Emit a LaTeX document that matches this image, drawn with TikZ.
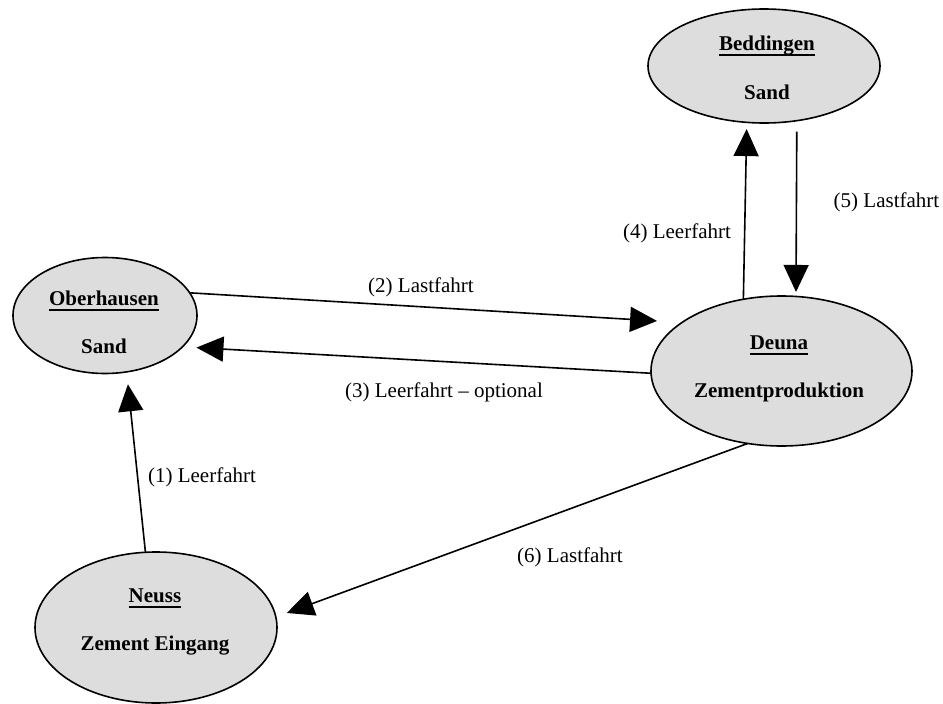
\documentclass[tikz,border=0pt]{standalone}
\usepackage{fontspec}
\setmainfont{Liberation Serif}
\usetikzlibrary{shapes.geometric,arrows.meta}
% underlined place name with a fixed rule depth
\newcommand\placename[1]{\setbox0\hbox{#1}\rlap{\rule[-6pt]{\wd0}{1.7pt}}\box0}
\definecolor{placefill}{RGB}{221,221,221}
\begin{document}
\begin{tikzpicture}[x=1pt,y=1pt,
  place/.style={ellipse, draw, line width=1.6pt, fill=placefill, inner sep=0pt, outer sep=0pt},
  placetext/.style={anchor=base, font=\fontsize{21}{25}\selectfont\bfseries, inner sep=0pt},
  route/.style={line width=1.6pt, -{Triangle[length=27pt,width=25pt]}},
  routelabel/.style={anchor=base, font=\fontsize{21}{25}\selectfont, inner sep=0pt}]
\useasboundingbox (0,0) rectangle (943,-704);

% places
\node[place, minimum width=232pt, minimum height=114pt] (bed) at (764,-66) {};
\node[place, minimum width=184pt, minimum height=116pt] (obh) at (105,-315.5) {};
\node[place, minimum width=261pt, minimum height=150pt] (deu) at (781.5,-371) {};
\node[place, minimum width=242pt, minimum height=151pt] (neu) at (156,-627.5) {};

% place texts
\node[placetext] (bed-name) at (767,-50) {\placename{Beddingen}};
\node[placetext] (bed-good) at (767,-99) {Sand};
\node[placetext] (obh-name) at (104,-305) {\placename{Oberhausen}};
\node[placetext] (obh-good) at (104,-353) {Sand};
\node[placetext] (deu-name) at (779,-349) {\placename{Deuna}};
\node[placetext] (deu-good) at (779,-397) {Zementproduktion};
\node[placetext] (neu-name) at (155,-602) {\placename{Neuss}};
\node[placetext] (neu-good) at (155,-650) {Zement Eingang};

% routes
\draw[route, shorten >=12.5pt] (neu.98) -- (obh.-69.7);
\draw[route, shorten >=25pt] (obh.15.6) -- (deu.154);
\draw[route, shorten >=14pt] (deu.181.3) -- (obh.-22.4);
\draw[route, shorten >=6.7pt] (deu.118.9) -- (bed.-107.5);
\draw[route, shorten <=11pt, shorten >=4.5pt] (bed.-59.7) -- (deu.79);
\draw[route, shorten >=11.7pt] (deu.-115.5) -- (neu.5);

% route labels
\node[routelabel] (l1) at (202,-482) {(1) Leerfahrt};
\node[routelabel] (l2) at (421,-292) {(2) Lastfahrt};
\node[routelabel] (l3) at (444,-397) {(3) Leerfahrt -- optional};
\node[routelabel] (l4) at (677,-238) {(4) Leerfahrt};
\node[routelabel] (l5) at (886.5,-207) {(5) Lastfahrt};
\node[routelabel] (l6) at (570,-562) {(6) Lastfahrt};
\end{tikzpicture}
\end{document}
